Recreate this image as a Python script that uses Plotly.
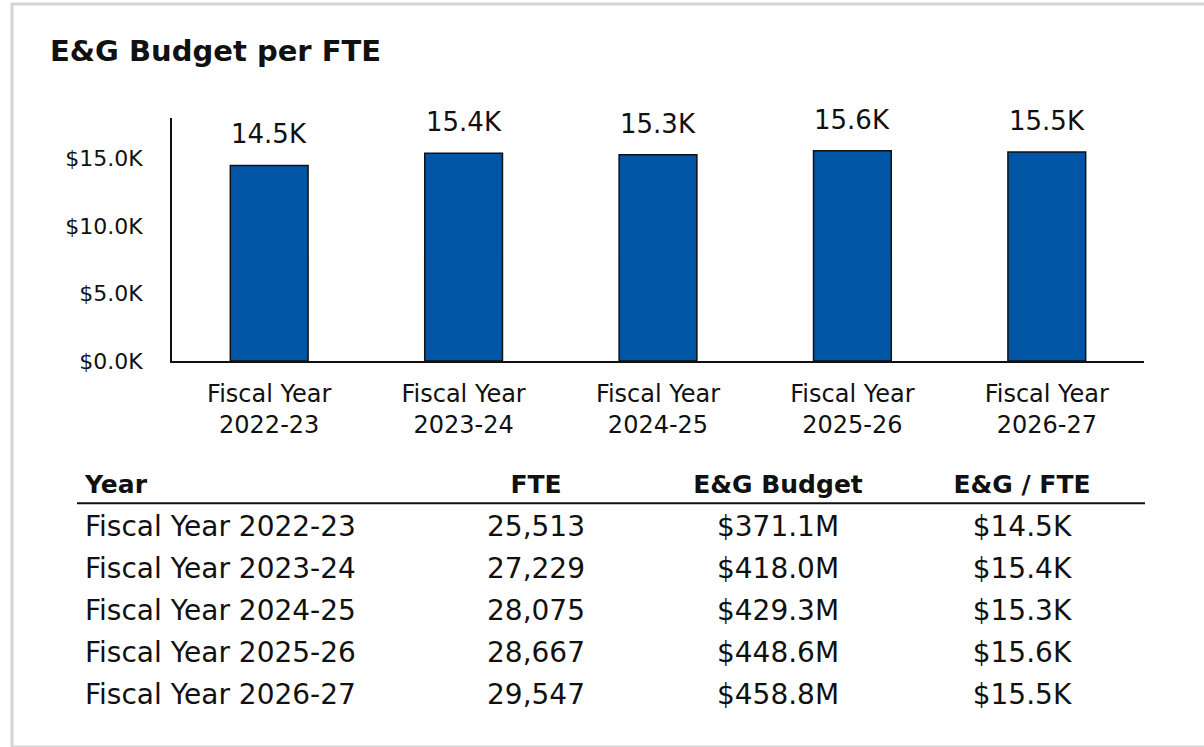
import plotly.graph_objects as go

# The photographed window is about 762px tall and then squeezed to 747,
# so the figure is built 762 tall and positioned with fractions of 747.
W, H = 1204, 762
REF_H = 747

# chart data
years = ["2022-23", "2023-24", "2024-25", "2025-26", "2026-27"]
per_fte_k = [14.5, 15.4, 15.3, 15.6, 15.5]
ytick_vals = [0, 5, 10, 15]
ytick_text = ["$0.0K", "$5.0K", "$10.0K", "$15.0K"]

# table data
table_header = ["Year", "FTE", "E&G Budget", "E&G / FTE"]
fte = ["25,513", "27,229", "28,075", "28,667", "29,547"]
budget = ["$371.1M", "$418.0M", "$429.3M", "$448.6M", "$458.8M"]
per_fte_txt = ["$14.5K", "$15.4K", "$15.3K", "$15.6K", "$15.5K"]

FONT = "DejaVu Sans"
BLUE = "#0155A5"
INK = "#111111"


def px_x(v):
    # picture pixel -> paper fraction
    return v / W


def px_y(v):
    return 1 - v / REF_H


categories = [f"Fiscal Year {y}" for y in years]
cat_labels = [f"Fiscal Year<br>{y}" for y in years]

fig = go.Figure()

fig.add_trace(
    go.Bar(
        x=categories, y=per_fte_k,
        marker=dict(color=BLUE, line=dict(color=INK, width=1.5)),
        hoverinfo="skip",
        showlegend=False,
    )
)

# value labels above bars
for cat, v in zip(categories, per_fte_k):
    fig.add_annotation(
        x=cat, y=v, xref="x", yref="y",
        text=f"{v:.1f}K", showarrow=False,
        yanchor="middle", yshift=31,
        font=dict(family=FONT, size=26, color=INK),
    )

# table under the chart
fig.add_trace(
    go.Table(
        domain=dict(x=[px_x(77), px_x(1145)], y=[px_y(742), px_y(461)]),
        columnwidth=[338, 242, 242, 246],
        header=dict(
            values=[f"<b>{h}</b>" for h in table_header],
            align=["left", "center", "center", "center"],
            font=dict(family=FONT, size=25, color=INK),
            fill_color="white", line_color="white",
            height=42,
        ),
        cells=dict(
            values=[categories, fte, budget, per_fte_txt],
            align=["left", "center", "center", "center"],
            font=dict(family=FONT, size=28, color=INK),
            fill_color="white", line_color="white",
            height=42,
        ),
    )
)

fig.update_layout(
    width=W, height=H,
    margin=dict(l=0, r=0, t=0, b=0),
    paper_bgcolor="white", plot_bgcolor="white",
    bargap=0.6,
    title=dict(
        text="<b>E&G Budget per FTE</b>",
        xref="container", yref="container",
        x=px_x(50), xanchor="left", y=px_y(50), yanchor="middle",
        font=dict(family=FONT, size=29, color=INK),
    ),
    xaxis=dict(
        domain=[px_x(172), px_x(1144)],
        showline=True, linecolor=INK, linewidth=2,
        showgrid=False, ticks="",
        tickmode="array", tickvals=categories, ticktext=cat_labels,
        ticklabelstandoff=10,
        tickfont=dict(family=FONT, size=24, color=INK),
        fixedrange=True,
    ),
    yaxis=dict(
        domain=[px_y(360), px_y(118)],
        range=[0, 18],
        showline=True, linecolor=INK, linewidth=2,
        showgrid=False, zeroline=False, ticks="",
        tickmode="array", tickvals=ytick_vals, ticktext=ytick_text,
        ticklabelstandoff=23,
        tickfont=dict(family=FONT, size=22, color=INK),
        fixedrange=True,
    ),
    shapes=[
        # card border
        dict(type="rect", xref="paper", yref="paper",
             x0=px_x(12), x1=1.05, y0=px_y(745), y1=px_y(4),
             line=dict(color="#d3d6d9", width=3), layer="below"),
        # rule under table header
        dict(type="line", xref="paper", yref="paper",
             x0=px_x(77), x1=px_x(1145), y0=px_y(502), y1=px_y(502),
             line=dict(color=INK, width=2)),
    ],
)

# drop the default page margin so the figure sits at the window origin
fig.write_html(
    "out.html",
    config={"displayModeBar": False},
    post_script="document.body.style.margin='0';document.body.style.overflow='hidden';",
)
